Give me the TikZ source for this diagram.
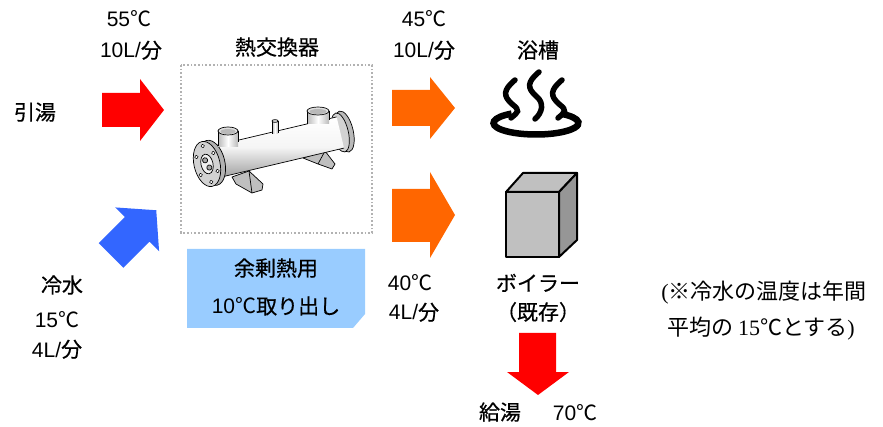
\documentclass[tikz,border=0pt]{standalone}
\usepackage{fontspec}
\setmainfont{Liberation Sans}
\newfontfamily\cjk[FakeBold=0.5]{Noto Sans CJK JP}
\newfontfamily\cjklight{Noto Sans CJK JP}
\newfontfamily\serifrm{Liberation Serif}
\newcommand\degC{{\cjklight ℃}}
\newcommand\steam[4]{% x, y of top, length, tilt
  \draw[line width=5.5, line cap=round]
    (#1+3,#2) .. controls (#1-9,#2+10) and (#1-9,#2+16) .. (#1,#2+24)
    .. controls (#1+9,#2+31) and (#1+6,#2+#3-6) .. (#1+#4,#2+#3);}
\definecolor{hotred}{RGB}{255,0,0}
\definecolor{warmorange}{RGB}{255,102,0}
\definecolor{coldblue}{RGB}{51,102,255}
\definecolor{notebg}{RGB}{153,204,255}
\definecolor{cubefront}{RGB}{192,192,192}
\definecolor{cubeside}{RGB}{150,150,150}
\begin{document}
\begin{tikzpicture}[x=1pt,y=-1pt,
  lbl/.style={font=\fontsize{21}{25}\selectfont, inner sep=0pt, anchor=base},
  remark/.style={font=\fontsize{22}{26}\selectfont, inner sep=0pt, anchor=base},
  metal/.style={draw=black, line width=0.7, line join=round}]
\useasboundingbox (0,0) rectangle (883,427);

% ---- flow arrows ----
\fill[hotred] (102,93)--(140,93)--(140,79)--(164,110)--(140,141)--(140,127)--(102,127)--cycle;
\fill[warmorange] (392,90)--(430,90)--(430,77)--(455,108)--(430,139)--(430,126)--(392,126)--cycle;
\fill[warmorange] (392,189)--(430,189)--(430,172)--(455,215)--(430,258)--(430,242)--(392,242)--cycle;
\fill[hotred] (519,333)--(556,333)--(556,372)--(569,372)--(538,395)--(507,372)--(519,372)--cycle;
\begin{scope}[shift={(111,255.5)}, rotate=45]
  \fill[coldblue] (0,-17.5)--(37,-17.5)--(37,-31)--(64,0)--(37,31)--(37,17.5)--(0,17.5)--cycle;
\end{scope}

% ---- heat exchanger frame ----
\draw[gray!60, dotted, line width=1.7] (181,65) rectangle (372,233);

% supports
\filldraw[metal, fill=gray!50] (232,177)--(249,171)--(263,184)--(262,190)--(252,193)--(236,184)--cycle;
\draw[metal] (249,171)--(252,193);
\filldraw[metal, fill=gray!50] (303,158)--(325,151)--(335,164)--(332,169)--(318,164)--cycle;
\draw[metal] (325,151)--(318,164);

% shell, rotated along its axis
\begin{scope}[shift={(207,164)}, rotate=13.3]
  % right end flange (seen from behind)
  \filldraw[metal, fill=gray!55] (141,0) ellipse[x radius=9, y radius=21];
  \filldraw[metal, fill=gray!35] (137,0) ellipse[x radius=8, y radius=20];
  % cylinder body
  \shade[top color=white, bottom color=gray!75, middle color=gray!8]
    (8,-16) rectangle (137,16);
  \draw[metal] (8,-16) -- (137,-16);
  \draw[metal] (8,16) -- (137,16);
  % left end flange
  \filldraw[metal, fill=gray!60] (5,0) ellipse[x radius=13, y radius=23];
  \filldraw[metal, fill=gray!35] (0,0) ellipse[x radius=13, y radius=23];
  \filldraw[metal, fill=gray!12] (0,0) ellipse[x radius=6, y radius=10];
  \filldraw[metal, fill=gray!70] (-1,-4) circle[radius=2.6];
  \filldraw[metal, fill=gray!70] (1.5,4) circle[radius=2.6];
  \foreach \a in {30,90,...,330}
    \filldraw[metal, line width=0.5, fill=white] ({10*cos(\a)},{18.5*sin(\a)}) circle[radius=1.8];
\end{scope}

% nozzles
\shade[left color=gray!55, right color=gray!55, middle color=white] (218,131) rectangle (238,147);
\draw[metal] (218,131) -- (218,146.5) (238,131) -- (238,142);
\filldraw[metal, fill=gray!25] (228,131) ellipse[x radius=10, y radius=4];
\fill[gray!55] (228,131.5) ellipse[x radius=7.5, y radius=2.5];
\shade[left color=gray!55, right color=gray!55, middle color=white] (307,111) rectangle (329,124);
\draw[metal] (307,111) -- (307,124.5) (329,111) -- (329,120);
\filldraw[metal, fill=gray!25] (318,111) ellipse[x radius=11, y radius=4];
\fill[gray!55] (318,111.5) ellipse[x radius=8.5, y radius=2.5];
\shade[left color=gray!55, right color=gray!55, middle color=white] (272,121) rectangle (278,134);
\draw[metal] (272,121) -- (272,134) (278,121) -- (278,133);
\filldraw[metal, fill=gray!25] (275,121) ellipse[x radius=3, y radius=1.4];

% ---- hot spring mark ----
\draw[line width=6.5] (536,123) ++(235:42.5 and 11.5)
  arc[start angle=235, end angle=-55, x radius=42.5, y radius=11.5];
\steam{512}{80}{38}{-1}
\steam{536}{72}{47}{-1}
\steam{559}{80}{38}{-1}

% ---- boiler ----
\begin{scope}[line width=2, line join=round]
  \filldraw[fill=cubefront] (506,192) rectangle (559,257);
  \filldraw[fill=cubefront] (506,192)--(523,173)--(577,173)--(559,192)--cycle;
  \filldraw[fill=cubeside] (559,192)--(577,173)--(577,240)--(559,257)--cycle;
\end{scope}

% ---- note ----
\fill[notebg] (187,249)--(365,249)--(365,314)--(353,328)--(187,328)--cycle;

% ---- labels ----
\node[lbl] (t55) at (129,27) {55\degC};
\node[lbl] (f10a) at (131,58) {10L/{\cjk 分}};
\node[lbl] (hikiyu) at (35,120) {\cjk 引湯};
\node[lbl] (hx) at (277,55) {\cjk 熱交換器};
\node[lbl] (t45) at (424,27) {45\degC};
\node[lbl] (f10b) at (424,58) {10L/{\cjk 分}};
\node[lbl] (bath) at (538,58) {\cjk 浴槽};
\node[lbl] (t40) at (410,291) {40\degC};
\node[lbl] (f4b) at (414,320) {4L/{\cjk 分}};
\node[lbl] (boiler) at (538,291) {\cjk ボイラー};
\node[lbl] (exist) at (538,320) {\cjk （既存）};
\node[lbl] (cold) at (62,293) {\cjk 冷水};
\node[lbl] (t15) at (57,328) {15\degC};
\node[lbl] (f4a) at (57,357) {4L/{\cjk 分}};
\node[lbl] (kyuto) at (500,420) {\cjk 給湯};
\node[lbl] (t70) at (575,420) {70\degC};
\node[lbl] (note1) at (276,276) {\cjk 余剰熱用};
\node[lbl] (note2) at (276,314) {10\degC{\cjk 取り出し}};
\node[remark] (rem1) at (764,300) {{\serifrm (}{\cjklight ※冷水の温度は年間}};
\node[remark] (rem2) at (761,336) {{\cjklight 平均の }{\serifrm 15}{\cjklight ℃とする}{\serifrm )}};
\end{tikzpicture}
\end{document}
